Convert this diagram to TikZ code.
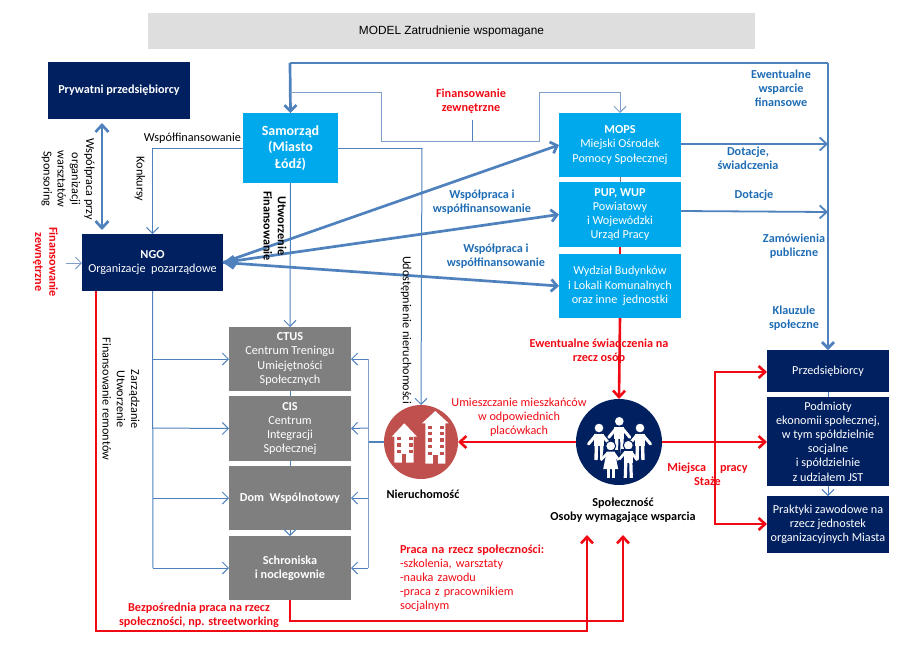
\documentclass[tikz,border=0pt]{standalone}
\usepackage{fontspec}
\setmainfont{Carlito}
\newfontfamily\arialfont{Liberation Sans}
\usetikzlibrary{arrows.meta,calc}
\definecolor{navy}{HTML}{002060}
\definecolor{sky}{HTML}{00A9EC}
\definecolor{slate}{HTML}{7F7F7F}
\definecolor{linkblue}{HTML}{4F81BD}
\definecolor{paleblue}{HTML}{7F9FC9}
\definecolor{txtblue}{HTML}{1F6DB5}
\definecolor{redred}{HTML}{F00A14}
\definecolor{brick}{HTML}{C0504D}
\newcommand{\bodyfs}{\fontsize{12.2}{14.2}\selectfont}
\tikzset{
 every node/.style={inner sep=0pt,outer sep=0pt,align=center,font=\bodyfs},
 navybox/.style={fill=navy,text=white},
 skybox/.style={fill=sky,text=white},
 greybox/.style={fill=slate,text=white},
 boldbody/.style={font=\bodyfs\bfseries},
 blab/.style={text=txtblue,font=\bodyfs\bfseries},
 rlab/.style={text=redred,font=\bodyfs\bfseries},
 rlabn/.style={text=redred,font=\bodyfs},
 klab/.style={text=black,font=\bodyfs},
 klabb/.style={text=black,font=\bodyfs\bfseries},
 thin link/.style={draw=linkblue,line width=1pt},
 thin arrow/.style={thin link,-{Straight Barb[length=6pt,width=12pt,line width=1pt]}},
 thick link/.style={draw=linkblue,line width=2.7pt},
 thick arrow/.style={thick link,-{Straight Barb[length=6pt,width=12pt,line width=2.7pt]}},
 mid link/.style={draw=linkblue,line width=1.8pt},
 mid arrow/.style={mid link,-{Straight Barb[length=7pt,width=13pt,line width=1.8pt]}},
 red link/.style={draw=redred,line width=2.6pt},
 red arrow/.style={red link,-{Straight Barb[length=6.5pt,width=12pt,line width=2.6pt]}},
 adultfig/.pic={
   \draw[navy,line width=1pt,fill=white] (0,0) circle (5);
   \draw[white,line width=3,line cap=round] (-3,7)--(-10.5,16) (3,7)--(10.5,16);
   \draw[white,line width=3.4] (-2.5,16)--(-3,32) (2.5,16)--(3,32);
   \fill[white] (-5,5.5) rectangle (5,18);
 },
 girlfig/.pic={
   \draw[navy,line width=1pt,fill=white] (0,0) circle (5);
   \fill[navy] (-7,4)--(7,4)--(11,24)--(-11,24)--cycle;
   \fill[white] (-4,5.5)--(4,5.5)--(7.5,23)--(-7.5,23)--cycle;
   \draw[white,line width=2.6] (-3,7)--(-10,14) (3,7)--(8,14);
   \draw[white,line width=3] (-2.5,22)--(-2.5,32) (2.5,22)--(2.5,32);
 },
 boyfig/.pic={
   \draw[navy,line width=1pt,fill=white] (0,0) circle (5);
   \fill[navy] (-7,4) rectangle (7,20);
   \draw[white,line width=2.6] (-3,7)--(-9,14) (3,7)--(9,15);
   \fill[white] (-4.5,5.5) rectangle (4.5,18);
   \draw[white,line width=3.2] (-2.5,17)--(-3,32.5) (2.5,17)--(3,32.5);
 },
}
\begin{document}
\begin{tikzpicture}[x=1pt,y=-1pt]
\useasboundingbox (0,0) rectangle (922,665);
% --- title
\node[fill=black!13,minimum width=607pt,minimum height=36pt,font=\arialfont\fontsize{11.85}{13}\selectfont] (title) at (451.5,31) {MODEL Zatrudnienie wspomagane};
% --- boxes
\node[navybox,boldbody,minimum width=142pt,minimum height=57pt] (pryw) at (119,90.5) {Prywatni przedsiębiorcy};
\node[skybox,minimum width=95pt,minimum height=70pt,font=\fontsize{14}{16.6}\selectfont\bfseries] (sam) at (290.5,148) {Samorząd\\(Miasto\\Łódź)};
\node[navybox,minimum width=141pt,minimum height=57pt] (ngo) at (152.5,262.5) {\textbf{NGO}\\Organizacje\ \ pozarządowe};
\node[greybox,minimum width=122pt,minimum height=64pt] (ctus) at (290,359) {\textbf{CTUS}\\Centrum Treningu\\Umiejętności\\Społecznych};
\node[greybox,minimum width=122pt,minimum height=65pt] (cis) at (290,428.5) {\textbf{CIS}\\Centrum\\Integracji\\Społecznej};
\node[greybox,boldbody,minimum width=122pt,minimum height=64pt] (dom) at (290,498) {Dom\ \ Wspólnotowy};
\node[greybox,boldbody,minimum width=122pt,minimum height=64pt] (schr) at (290,568) {Schroniska\\i noclegownie};
\node[skybox,minimum width=122pt,minimum height=64pt] (mops) at (620,145) {\textbf{MOPS}\\Miejski Ośrodek\\Pomocy Społecznej};
\node[skybox,minimum width=122pt,minimum height=65pt] (pup) at (620,214.5) {\textbf{PUP, WUP}\\Powiatowy\\i Wojewódzki\\Urząd Pracy};
\node[skybox,minimum width=122pt,minimum height=64pt] (wyd) at (620,286) {Wydział Budynków\\i Lokali Komunalnych\\oraz inne\ \ jednostki};
\node[navybox,minimum width=122pt,minimum height=42pt] (prz) at (828,371) {Przedsiębiorcy};
\node[navybox,minimum width=122pt,minimum height=89pt] (pod) at (828,441.5) {Podmioty\\ekonomii społecznej,\\w tym spółdzielnie\\socjalne\\i spółdzielnie\\z udziałem JST};
\node[navybox,minimum width=122pt,minimum height=57pt] (prak) at (828,524.5) {Praktyki zawodowe na\\rzecz jednostek\\organizacyjnych Miasta};
% --- circles
\node[circle,fill=brick,minimum size=74pt] (nier) at (421,442) {};
\node[circle,fill=navy,minimum size=86pt] (spol) at (619,442) {};
% --- junctions
\coordinate (topL) at (290,63);
\coordinate (topR) at (828,63);
\coordinate (t1) at (290,92);
\coordinate (t2) at (381,92);
\coordinate (t3) at (381,141);
\coordinate (t4) at (539,141);
\coordinate (t5) at (539,92);
\coordinate (t6) at (620,92);
\coordinate (stub) at (472,120);
\coordinate (stubb) at (472,141);
\coordinate (r1) at (422,148);
\coordinate (ext) at (66,263);
\coordinate (n1) at (153,359);
\coordinate (n2) at (153,428);
\coordinate (n3) at (153,498);
\coordinate (n4) at (153,568);
\coordinate (e0) at (368,442);
\coordinate (e1) at (368,359);
\coordinate (e2) at (368,428);
\coordinate (e3) at (368,498);
\coordinate (e4) at (368,568);
\coordinate (rj) at (715,442);
\coordinate (rj1) at (715,372);
\coordinate (rj2) at (715,524);
\coordinate (b1) at (96,631);
\coordinate (b2) at (587,631);
\coordinate (b3) at (587,535);
\coordinate (c1) at (290,621);
\coordinate (c2) at (623,621);
\coordinate (c3) at (623,535);
% --- blue connectors
\draw[mid link] (topL)--(topR);
\draw[thick arrow] (topL)--(sam.north);
\draw[thick arrow] (topR)--(prz.north);
\draw[thin link,draw=paleblue] (t1)--(t2)--(t3)--(t4)--(t5)--(t6);
\draw[thin arrow,draw=paleblue] (t6)--(mops.north);
\draw[thin link] (stub)--(stubb);
\draw[thin arrow] (sam.west)-|(ngo.north);
\draw[thin link] (sam.east)--(r1);
\draw[thin arrow] (r1)--(nier.north);
\draw[thin arrow] (sam.south)--(ctus.north);
\draw[thick link,{Straight Barb[length=7pt,width=13pt,line width=2.7pt]}-{Straight Barb[length=7pt,width=13pt,line width=2.7pt]}] (102,123) -- (102,230);
\draw[thick arrow] (ngo.east)--(mops.west);
\draw[thick arrow] (ngo.east)--(pup.west);
\draw[thick arrow] (ngo.east)--(wyd.west);
\fill[linkblue] (223,262.5)--(233,255)--(238,262.5)--(233,269.5)--cycle;
\draw[mid arrow] (mops.east |- 0,144)--(828,144);
\draw[mid arrow] (pup.east |- 0,211)--(828,212);
\draw[thin arrow,draw=paleblue] (ext)--(ngo.west |- ext);
\draw[thin link] (ngo.south)--(n4);
\draw[thin arrow] (n1)--(ctus.west);
\draw[thin arrow] (n2)--(cis.west);
\draw[thin arrow] (n3)--(dom.west);
\draw[thin arrow] (n4)--(schr.west);
\draw[mid link] (nier.west)--(e0);
\draw[thin link,draw=paleblue] (e1)--(e4);
\draw[thin arrow] (e1)--(ctus.east);
\draw[thin arrow] (e2)--(cis.east);
\draw[thin arrow] (e3)--(dom.east);
\draw[thin arrow] (e4)--(schr.east);
\draw[thin link] (ctus.south)--(cis.north);
\draw[thin link] (cis.south)--(dom.north);
\draw[thin arrow] (dom.south)--(schr.north);
\draw[thin link,draw=slate] (mops.south)--(pup.north);
\draw[thin link] (prz.south)--(pod.north);
\draw[thin arrow] (pod.south)--(prak.north);
% --- red connectors
\draw[red link] (pup.south)--(wyd.north);
\draw[red arrow] (wyd.south)--(spol.north);
\draw[red arrow] (spol.west)--(nier.east);
\draw[red arrow] (spol.east)--(pod.west |- rj);
\draw[red arrow] (rj)--(rj1)--(prz.west |- rj1);
\draw[red arrow] (rj)--(rj2)--(prak.west |- rj2);
\draw[red arrow] (ngo.south -| b1)--(b1)--(b2)--(b3);
\draw[red arrow] (schr.south)--(c1)--(c2)--(c3);
% --- building icons
\fill[white] (404.3,423.3)--(417,436.7)--(413.7,436.7)--(413.7,462.7)--(394.3,462.7)--(394.3,436.7)--(391.7,436.7)--cycle;
\fill[white] (435.3,411)--(448.7,423.3)--(445.3,423.3)--(445.3,463.7)--(425.3,463.7)--(425.3,423.3)--(422,423.3)--cycle;
\foreach \wy in {438.7,445,451.3}{\fill[brick] (397,\wy-1.6) rectangle +(4,3.2); \fill[brick] (408.7,\wy-1.6) rectangle +(4,3.2);}
\fill[brick] (402,454.3) rectangle (406.2,462.7);
\foreach \wy in {427.7,433.7,440,446.7,453.3}{\fill[brick] (427.7,\wy-1.6) rectangle +(4,3.2); \fill[brick] (439.7,\wy-1.6) rectangle +(4,3.2);}
\fill[brick] (433.3,455.3) rectangle (438.3,463.7);
% --- people icons
\pic at (619.3,421.3) {adultfig};
\pic at (599,428) {adultfig};
\pic at (640,428) {adultfig};
\pic at (610.7,446) {girlfig};
\pic at (628.3,445.3) {boyfig};
% --- labels
\node[klab] (lwsp) at (192.5,138) {Współfinansowanie};
\node[klab,rotate=-90] (lkon) at (140,179) {Konkursy};
\node[klab,rotate=-90] (lpry) at (68,179) {Współpraca przy\\organizacji\\warsztatów\\Sponsoring};
\node[klabb,rotate=-90] (lutw) at (275,226) {Utworzenie\\Finansowanie};
\node[klab,rotate=-90] (ludo) at (406,330) {Udostępnienie nieruchomości};
\node[rlab,rotate=-90] (lfin) at (45.5,262) {Finansowanie\\zewnętrzne};
\node[rlab] (lfz) at (471,101) {Finansowanie\\zewnętrzne};
\node[blab] (lwf1) at (482,202) {Współpraca i\\współfinansowanie};
\node[blab] (lwf2) at (496,256) {Współpraca i\\współfinansowanie};
\node[blab] (lew) at (781,88) {Ewentualne\\wsparcie\\finansowe};
\node[blab] (ldot) at (748,158) {Dotacje,\\świadczenia};
\node[blab] (ldt) at (754,195) {Dotacje};
\node[blab] (lzam) at (794,246.5) {Zamówienia\\publiczne};
\node[blab] (lkl) at (794,318) {Klauzule\\społeczne};
\node[rlab] (lesw) at (599,350) {Ewentualne świadczenia na\\rzecz osób};
\node[rlabn] (lumi) at (519,417.5) {Umieszczanie mieszkańców\\w odpowiednich\\placówkach};
\node[klabb] (lnie) at (423,494) {Nieruchomość};
\node[klabb] (lspo) at (623,510) {Społeczność\\Osoby wymagające wsparcia};
\node[rlab] (lmie) at (707.5,474) {Miejsca\ \ \ \ \ pracy\\Staże};
\node[klab,rotate=-90] (lzar) at (121,399) {Zarządzanie\\Utworzenie\\Finansowanie remontów};
\node[rlabn,text width=150pt,align=left,anchor=north west] (lpra) at (400,544.5) {\textbf{Praca na rzecz społeczności:}\\-szkolenia, warsztaty\\-nauka zawodu\\-praca z pracownikiem\\socjalnym};
\node[rlab] (lbez) at (199,615) {Bezpośrednia praca na rzecz\\społeczności, np. streetworking};
\end{tikzpicture}
\end{document}
